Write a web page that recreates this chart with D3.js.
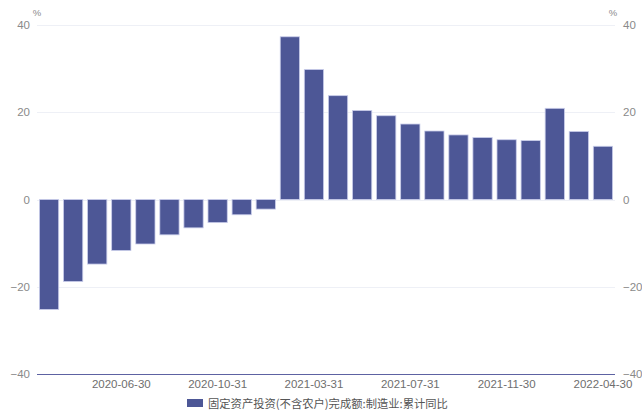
<!DOCTYPE html>
<html>
<head>
<meta charset="utf-8">
<script src="https://cdn.jsdelivr.net/npm/d3@7/dist/d3.min.js"></script>
<style>
  html, body { margin: 0; padding: 0; background: #fff; }
  svg { display: block; font-family: "Liberation Sans", Arial, sans-serif; }
</style>
</head>
<body>
<svg id="chart" width="642" height="410"></svg>
<script>
// Monthly periods (no January release) and cumulative YoY growth, %
const periods = [
  "2020-03-31", "2020-04-30", "2020-05-31", "2020-06-30", "2020-07-31", "2020-08-31",
  "2020-09-30", "2020-10-31", "2020-11-30", "2020-12-31", "2021-02-28", "2021-03-31",
  "2021-04-30", "2021-05-31", "2021-06-30", "2021-07-31", "2021-08-31", "2021-09-30",
  "2021-10-31", "2021-11-30", "2021-12-31", "2022-02-28", "2022-03-31", "2022-04-30"
];
const growth = [
  -25.2, -18.8, -14.8, -11.7, -10.2, -8.1,
  -6.5, -5.3, -3.5, -2.2, 37.3, 29.8,
  23.8, 20.4, 19.2, 17.3, 15.7, 14.8,
  14.2, 13.7, 13.5, 20.9, 15.6, 12.2
];
const yTicks = [-40, -20, 0, 20, 40];
const xTickLabels = ["2020-06-30", "2020-10-31", "2021-03-31", "2021-07-31", "2021-11-30", "2022-04-30"];
const seriesName = "固定资产投资(不含农户)完成额:制造业:累计同比";

const svg = d3.select("#chart");
const plotLeft = 37, plotRight = 615, plotTop = 25, plotBottom = 374;

const x = d3.scaleBand().domain(periods).range([plotLeft, plotRight]).paddingInner(0.2).paddingOuter(0.1);
const y = d3.scaleLinear().domain([-40, 40]).range([plotBottom, plotTop]);

// grid lines
svg.append("g").selectAll("line").data(yTicks.filter(d => d !== -40)).join("line")
  .attr("x1", plotLeft).attr("x2", plotRight)
  .attr("y1", d => Math.round(y(d)) + 0.5).attr("y2", d => Math.round(y(d)) + 0.5)
  .attr("stroke", "#eef0f6").attr("stroke-width", 1);

// left and right value axes (labels only)
const leftAxis = d3.axisLeft(y).tickValues(yTicks).tickSize(0).tickPadding(7);
svg.append("g").attr("transform", `translate(${plotLeft},0)`).call(leftAxis)
  .call(g => g.select(".domain").remove())
  .call(g => g.selectAll("text").attr("fill", "#8a8a8a").attr("font-size", 11.5));

const rightAxis = d3.axisRight(y).tickValues(yTicks).tickSize(0).tickPadding(8);
svg.append("g").attr("transform", `translate(${plotRight},0)`).call(rightAxis)
  .call(g => g.select(".domain").remove())
  .call(g => g.selectAll("text").attr("fill", "#8a8a8a").attr("font-size", 11.5));

svg.append("text").attr("x", 37).attr("y", 16).attr("text-anchor", "middle")
  .attr("fill", "#8a8a8a").attr("font-size", 9.5).text("%");
svg.append("text").attr("x", 613).attr("y", 16).attr("text-anchor", "middle")
  .attr("fill", "#8a8a8a").attr("font-size", 9.5).text("%");

// bars
svg.append("g").selectAll("rect").data(periods).join("rect")
  .attr("x", d => x(d))
  .attr("width", x.bandwidth())
  .attr("y", (d, i) => y(Math.max(0, growth[i])))
  .attr("height", (d, i) => Math.abs(y(growth[i]) - y(0)))
  .attr("fill", "#4d5796")
  .attr("stroke", "#c9cdea").attr("stroke-width", 0.8);

// bottom axis line and date labels
svg.append("line").attr("x1", plotLeft).attr("x2", plotRight)
  .attr("y1", plotBottom + 0.5).attr("y2", plotBottom + 0.5)
  .attr("stroke", "#5d62a2").attr("stroke-width", 1.2);

const xAxis = d3.axisBottom(x).tickValues(xTickLabels).tickSize(0).tickPadding(6);
svg.append("g").attr("transform", `translate(0,${plotBottom})`).call(xAxis)
  .call(g => g.select(".domain").remove())
  .call(g => g.selectAll("text").attr("fill", "#6e6e6e").attr("font-size", 11.5));

// legend
const legend = svg.append("g").attr("transform", "translate(187,399)");
legend.append("rect").attr("x", 0).attr("y", 0).attr("width", 16).attr("height", 8).attr("fill", "#4d5796");
legend.append("text").attr("x", 21).attr("y", 8.5).attr("fill", "#555")
  .attr("font-size", 11.3).attr("font-family", "'Noto Sans CJK SC', sans-serif").text(seriesName);
</script>
</body>
</html>
